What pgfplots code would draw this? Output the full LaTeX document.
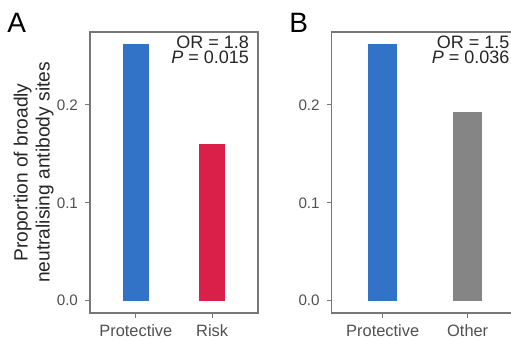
\documentclass[border=0pt]{standalone}
\usepackage{pgfplots}
\pgfplotsset{compat=1.18}
\usepackage{fontspec}
\setmainfont{Liberation Sans}
\definecolor{protblue}{HTML}{3273C8}
\definecolor{riskred}{HTML}{DA1F48}
\definecolor{othergray}{HTML}{858585}
\definecolor{axgray}{HTML}{777777}
\definecolor{txtgray}{HTML}{505050}
\pgfplotsset{
  panel/.style={
    scale only axis,
    height=140.5pt,
    anchor=south west,
    xmin=0.4, xmax=2.6,
    ymin=-0.0125, ymax=0.2745,
    xtick={1,2},
    ytick={0,0.1,0.2},
    yticklabels={0.0,0.1,0.2},
    tick align=outside,
    major tick length=2.5pt,
    tick style={axgray, line width=0.5pt},
    axis line style={axgray, line width=0.6pt},
    tick label style={txtgray},
    xticklabel style={font=\fontsize{8.2}{9}\selectfont},
    yticklabel style={font=\fontsize{7.6}{9}\selectfont},
    /pgf/number format/assume math mode=true,
    xtick pos=bottom, ytick pos=left,
    clip=false,
  }
}
\begin{document}
\begin{tikzpicture}
\useasboundingbox (0,0) rectangle (255.5pt,170pt);
\clip (0,0) rectangle (255.5pt,170pt);
% Panel A
\begin{axis}[panel, at={(45pt,13.5pt)}, width=84pt,
  xticklabels={Protective,Risk},
]
\addplot[ybar, bar width=0.34, bar shift=0pt, fill=protblue, draw=none] coordinates {(1,0.2618)};
\addplot[ybar, bar width=0.34, bar shift=0pt, fill=riskred, draw=none] coordinates {(2,0.1604)};
\node[anchor=base east, inner sep=0pt, font=\fontsize{9}{10}\selectfont, black!85] at (rel axis cs:0.948,0.942) {OR = 1.8};
\node[anchor=base east, inner sep=0pt, font=\fontsize{9}{10}\selectfont, black!85] at (rel axis cs:0.948,0.8886) {\textit{P} = 0.015};
\node[rotate=90, anchor=south, inner sep=0pt, align=center,
  font=\fontsize{9.6}{11}\selectfont, black!85]
  at ([xshift=-18pt]rel axis cs:0,0.5) {Proportion of broadly\\neutralising antibody sites};
\end{axis}
% Panel B
\begin{axis}[panel, at={(165.85pt,13.5pt)}, width=93.5pt,
  xticklabels={Protective,Other},
]
\addplot[ybar, bar width=0.34, bar shift=0pt, fill=protblue, draw=none] coordinates {(1,0.2618)};
\addplot[ybar, bar width=0.34, bar shift=0pt, fill=othergray, draw=none] coordinates {(2,0.1923)};
\node[anchor=base east, inner sep=0pt, font=\fontsize{9}{10}\selectfont, black!85] at (rel axis cs:0.953,0.942) {OR = 1.5};
\node[anchor=base east, inner sep=0pt, font=\fontsize{9}{10}\selectfont, black!85] at (rel axis cs:0.953,0.8886) {\textit{P} = 0.036};
\end{axis}
\node[anchor=base west, inner sep=0pt, font=\fontsize{14}{16}\selectfont] at (3.5pt,153.5pt) {A};
\node[anchor=base west, inner sep=0pt, font=\fontsize{14}{16}\selectfont] at (144.5pt,153.5pt) {B};
\end{tikzpicture}
\end{document}
